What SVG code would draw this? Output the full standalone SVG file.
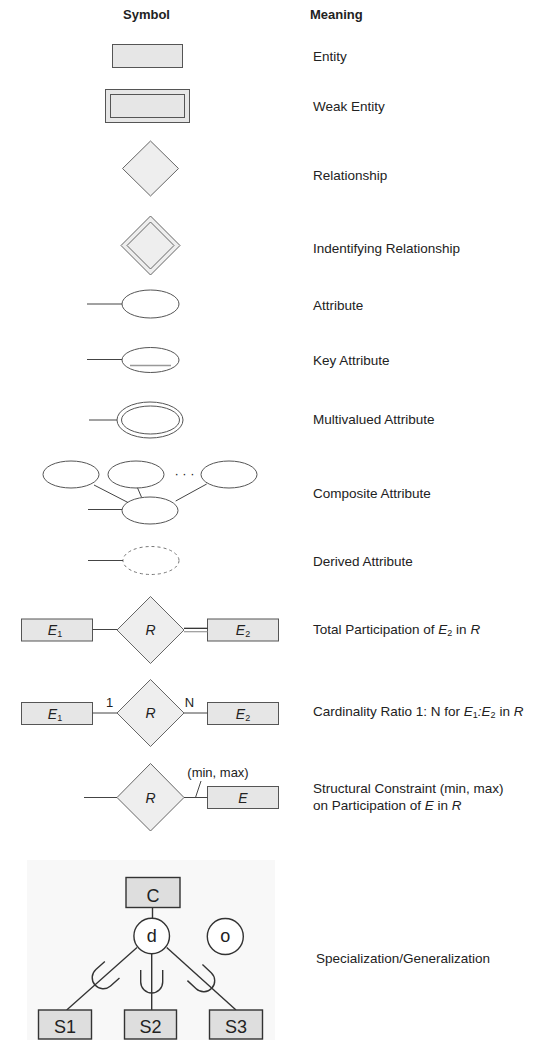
<svg xmlns="http://www.w3.org/2000/svg" width="535" height="1040" viewBox="0 0 535 1040">
<style>
.hd{font-family:"Liberation Sans",Arial,sans-serif;font-size:13px;font-weight:bold;fill:#222}
.lb{font-family:"Liberation Sans",Arial,sans-serif;font-size:13.5px;fill:#222}
.it{font-family:"Liberation Sans",Arial,sans-serif;font-size:14px;font-style:italic;fill:#222}
.sm{font-family:"Liberation Sans",Arial,sans-serif;font-size:13px;fill:#222}
.sub{font-size:9px;font-style:normal}
.ent{fill:#e6e6e6;stroke:#555;stroke-width:1}
.rel{fill:#eeeeee;stroke:#666;stroke-width:1}
.att{fill:#fff;stroke:#555;stroke-width:1}
.ln{stroke:#444;stroke-width:1;fill:none}
.sc{stroke:#333;stroke-width:1.4;fill:none}
.sbox{fill:#dedede;stroke:#333;stroke-width:1.4}
.st{font-family:"Liberation Sans",Arial,sans-serif;font-size:18px;fill:#222}
</style>
<rect width="535" height="1040" fill="#fff"/>
<text class="hd" x="123" y="18.5">Symbol</text>
<text class="hd" x="310" y="18.5">Meaning</text>

<g id="entity"><rect class="ent" x="112.5" y="44.5" width="70" height="23"/></g>
<g id="weak-entity"><rect class="ent" x="105.5" y="89.5" width="84" height="33" stroke="#777"/><rect class="ent" x="110.5" y="94.5" width="74" height="23"/></g>
<g id="relationship"><polygon class="rel" points="150.5,141 178.5,168.5 150.5,196 122.5,168.5"/></g>
<g id="identifying-relationship"><polygon class="rel" points="150.5,216 180,245.5 150.5,275 121,245.5" stroke="#777"/><polygon class="rel" points="150.5,222 174,245.5 150.5,269 127,245.5"/></g>
<g id="attribute"><ellipse class="att" cx="150.5" cy="304" rx="28.5" ry="14"/></g>
<g id="key-attribute"><ellipse class="att" cx="150.5" cy="360" rx="28.5" ry="12.5"/><line x1="130" y1="365.5" x2="171" y2="365.5" stroke="#999" stroke-width="1.6"/></g>
<g id="multivalued-attribute"><ellipse class="att" cx="150" cy="420" rx="33" ry="18"/><ellipse class="att" cx="150.5" cy="420" rx="29" ry="14"/></g>
<g id="composite-attribute">
<ellipse class="att" cx="71" cy="474.5" rx="28" ry="13.5"/>
<ellipse class="att" cx="136" cy="474.5" rx="28" ry="13.5"/>
<ellipse class="att" cx="229" cy="474.5" rx="28" ry="13.5"/>
<ellipse class="att" cx="150" cy="510.5" rx="28" ry="13.5"/>
<text class="sm" x="184.5" y="478" text-anchor="middle">· · ·</text>
</g>
<g id="derived-attribute"><ellipse cx="151" cy="560.5" rx="28" ry="14" fill="#fff" stroke="#777" stroke-dasharray="3 3"/></g>

<g id="total-participation">
<rect class="ent" x="21.5" y="619" width="71" height="22"/>
<text class="it" x="55" y="635" text-anchor="middle">E<tspan class="sub" dy="2">1</tspan></text>
<polygon class="rel" points="150.5,596.5 184,630 150.5,663.5 117,630"/>
<text class="it" x="150.5" y="635" text-anchor="middle">R</text>
<rect class="ent" x="207.5" y="619" width="71" height="22"/>
<text class="it" x="243" y="635" text-anchor="middle">E<tspan class="sub" dy="2">2</tspan></text>
</g>

<g id="cardinality-ratio">
<rect class="ent" x="21.5" y="702.5" width="71" height="22"/>
<text class="it" x="55" y="718.5" text-anchor="middle">E<tspan class="sub" dy="2">1</tspan></text>
<polygon class="rel" points="150.5,679.5 184,713 150.5,746.5 117,713"/>
<text class="it" x="150.5" y="718" text-anchor="middle">R</text>
<rect class="ent" x="207.5" y="702.5" width="71" height="22"/>
<text class="it" x="243" y="718.5" text-anchor="middle">E<tspan class="sub" dy="2">2</tspan></text>
<text class="sm" x="109.5" y="707" text-anchor="middle">1</text>
<text class="sm" x="189.5" y="707" text-anchor="middle">N</text>
</g>

<g id="structural-constraint">
<polygon class="rel" points="150.5,763.5 184,797.5 150.5,831 117,797.5"/>
<text class="it" x="150.5" y="802.5" text-anchor="middle">R</text>
<rect class="ent" x="207.5" y="786.5" width="71" height="22"/>
<text class="it" x="243" y="802.5" text-anchor="middle">E</text>
<text class="sm" x="218" y="776.5" text-anchor="middle">(min, max)</text>
</g>

<g id="connectors">
<line class="ln" x1="87" y1="304" x2="122" y2="304"/>
<line class="ln" x1="87" y1="359.5" x2="122" y2="359.5"/>
<line class="ln" x1="89" y1="420" x2="117" y2="420"/>
<line class="ln" x1="88" y1="509.5" x2="122" y2="509.5"/>
<line class="ln" x1="94" y1="485" x2="128" y2="502.5"/>
<line class="ln" x1="137.5" y1="487.8" x2="141.5" y2="497.2"/>
<line class="ln" x1="206.7" y1="484" x2="175.7" y2="501"/>
<line class="ln" x1="88" y1="560.5" x2="123" y2="560.5"/>
<line class="ln" x1="92.5" y1="629.5" x2="117" y2="629.5"/>
<line x1="184" y1="628.3" x2="207.5" y2="628.3" stroke="#222" stroke-width="1.2"/>
<line x1="184" y1="631.7" x2="207.5" y2="631.7" stroke="#999" stroke-width="1.2"/>
<line class="ln" x1="92.5" y1="713" x2="117" y2="713"/>
<line class="ln" x1="184" y1="713" x2="207.5" y2="713"/>
<line class="ln" x1="84" y1="797.5" x2="117" y2="797.5"/>
<line class="ln" x1="184" y1="797.5" x2="207.5" y2="797.5"/>
<line class="ln" x1="195.5" y1="797.5" x2="201" y2="781"/>
</g>

<text class="lb" x="313" y="61">Entity</text>
<text class="lb" x="313" y="111">Weak Entity</text>
<text class="lb" x="313" y="180">Relationship</text>
<text class="lb" x="313" y="253">Indentifying Relationship</text>
<text class="lb" x="313" y="310">Attribute</text>
<text class="lb" x="313" y="365">Key Attribute</text>
<text class="lb" x="313" y="424">Multivalued Attribute</text>
<text class="lb" x="313" y="497.5">Composite Attribute</text>
<text class="lb" x="313" y="565.5">Derived Attribute</text>
<text class="lb" x="313" y="634">Total Participation of <tspan font-style="italic">E</tspan><tspan font-size="9" dy="2">2</tspan><tspan dy="-2"> in </tspan><tspan font-style="italic">R</tspan></text>
<text class="lb" x="313" y="716">Cardinality Ratio 1: N for <tspan font-style="italic">E</tspan><tspan font-size="9" dy="2">1</tspan><tspan dy="-2" font-style="italic">:E</tspan><tspan font-size="9" dy="2">2</tspan><tspan dy="-2"> in </tspan><tspan font-style="italic">R</tspan></text>
<text class="lb" x="313" y="793">Structural Constraint (min, max)</text>
<text class="lb" x="313" y="810">on Participation of <tspan font-style="italic">E</tspan> in <tspan font-style="italic">R</tspan></text>

<rect x="27" y="860" width="248" height="180" fill="#f8f8f8"/>
<g id="spec-connectors">
<line class="sc" x1="152.5" y1="908" x2="152.5" y2="918"/>
<line class="sc" x1="137" y1="947.5" x2="66.7" y2="1010"/>
<line class="sc" x1="151.7" y1="954" x2="151.7" y2="1010"/>
<line class="sc" x1="166.7" y1="947.5" x2="236" y2="1010"/>
<path class="sc" d="M -11 -12 L -11 0 A 11 11 0 0 0 11 0 L 11 -12" transform="translate(103.2 977.7) rotate(48.3)"/>
<path class="sc" d="M -11 -12 L -11 0 A 11 11 0 0 0 11 0 L 11 -12" transform="translate(151.7 982)"/>
<path class="sc" d="M -11 -12 L -11 0 A 11 11 0 0 0 11 0 L 11 -12" transform="translate(203.7 980.8) rotate(-46.9)"/>
</g>
<g id="C"><rect class="sbox" x="126" y="877.5" width="54" height="30"/><text class="st" x="153" y="901.5" text-anchor="middle">C</text></g>
<g id="d"><circle cx="151.7" cy="936" r="17.8" fill="#fff" stroke="#333" stroke-width="1.4"/><text class="st" x="151.7" y="942" font-size="17" text-anchor="middle">d</text></g>
<g id="o"><circle cx="225.3" cy="936.5" r="18" fill="#fff" stroke="#333" stroke-width="1.4"/><text class="st" x="225.3" y="942" font-size="17" text-anchor="middle">o</text></g>
<g id="S1"><rect class="sbox" x="38.5" y="1010" width="53" height="29"/><text class="st" x="65" y="1033" text-anchor="middle">S1</text></g>
<g id="S2"><rect class="sbox" x="124.5" y="1010" width="52" height="29"/><text class="st" x="150.5" y="1033" text-anchor="middle">S2</text></g>
<g id="S3"><rect class="sbox" x="209.5" y="1010" width="53" height="29"/><text class="st" x="236" y="1033" text-anchor="middle">S3</text></g>
<text class="lb" x="316" y="963" font-size="15">Specialization/Generalization</text>
</svg>
